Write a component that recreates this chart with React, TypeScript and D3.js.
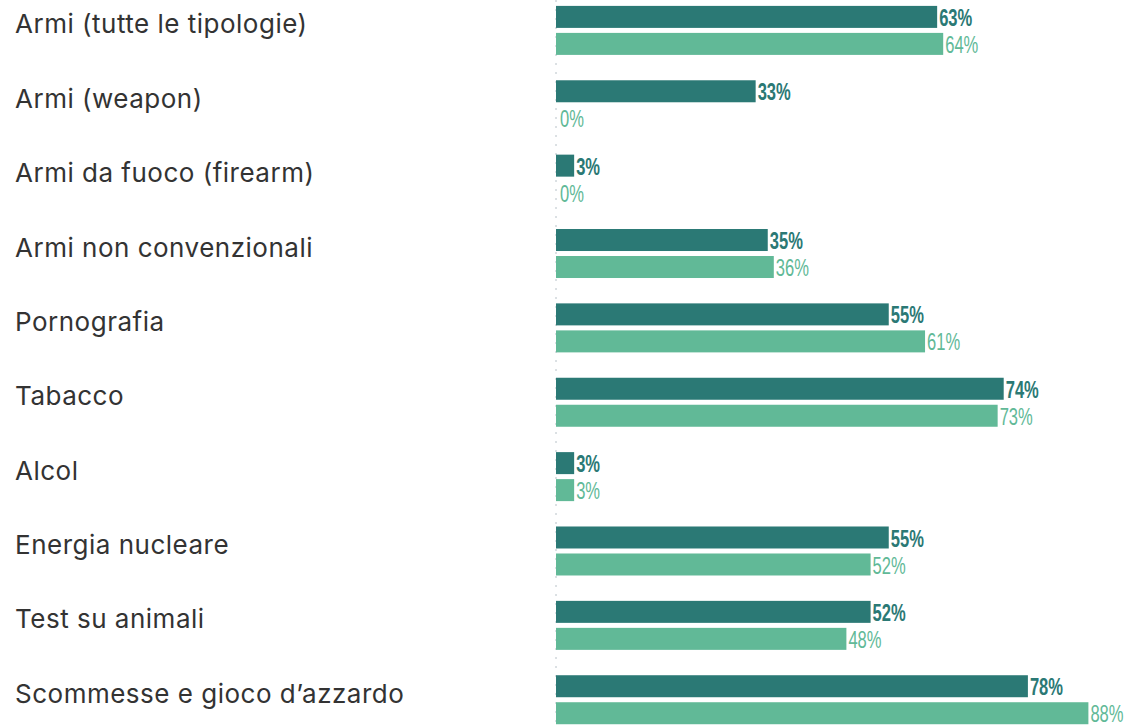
import React from "react";
import * as d3 from "d3";

const categories = [
  "Armi (tutte le tipologie)",
  "Armi (weapon)",
  "Armi da fuoco (firearm)",
  "Armi non convenzionali",
  "Pornografia",
  "Tabacco",
  "Alcol",
  "Energia nucleare",
  "Test su animali",
  "Scommesse e gioco d\u2019azzardo",
];
const seriesKeys = ["s1", "s2"];
const series1 = [63, 33, 3, 35, 55, 74, 3, 55, 52, 78];
const series2 = [64, 0, 0, 36, 61, 73, 3, 52, 48, 88];

const W = 1127;
const H = 726;
const DARK = "#2b7975";
const LIGHT = "#61b997";

export default function App() {
  const x = d3.scaleLinear().domain([0, 100]).range([556, 1161]);
  const step = 74.37;
  const y = d3
    .scaleBand<string>()
    .domain(categories)
    .range([5.9, 5.9 + step * categories.length])
    .paddingInner(0)
    .paddingOuter(0);
  const yInner = d3
    .scaleBand<string>()
    .domain(seriesKeys)
    .range([0, 49])
    .paddingInner(5 / 27)
    .paddingOuter(0);
  const colors: Record<string, string> = { s1: DARK, s2: LIGHT };
  const values: Record<string, number[]> = { s1: series1, s2: series2 };

  return (
    <svg
      width={W}
      height={H}
      style={{ position: "absolute", left: 0, top: 0, background: "#fff" }}
    >
      <line
        x1={x(0)}
        x2={x(0)}
        y1={0}
        y2={H}
        stroke="#b8c2c8"
        strokeWidth={1}
        strokeDasharray="2,7"
      />
      {categories.map((c, i) => {
        const top = y(c)!;
        return (
          <g key={c}>
            <text
              x={15}
              y={top + 18}
              dominantBaseline="central"
              fontFamily="Inter, 'Noto Sans', sans-serif"
              fontSize={26}
              letterSpacing={0.5}
              fill="#333"
            >
              {c}
            </text>
            {seriesKeys.map((k) => {
              const v = values[k][i];
              const by = top + yInner(k)!;
              const bh = yInner.bandwidth();
              const lx = x(v) + (v > 0 ? 2 : 4);
              const ly = by + bh / 2 + 1;
              return (
                <g key={k}>
                  {v > 0 && (
                    <rect
                      x={x(0)}
                      y={by}
                      width={x(v) - x(0)}
                      height={bh}
                      fill={colors[k]}
                    />
                  )}
                  <text
                    transform={`translate(${lx},${ly}) scale(0.72,1)`}
                    dominantBaseline="central"
                    fontFamily="'Liberation Sans', Arial, sans-serif"
                    fontSize={23}
                    fontWeight={k === "s1" ? 600 : 400}
                    fill={colors[k]}
                  >
                    {v}%
                  </text>
                </g>
              );
            })}
          </g>
        );
      })}
    </svg>
  );
}
